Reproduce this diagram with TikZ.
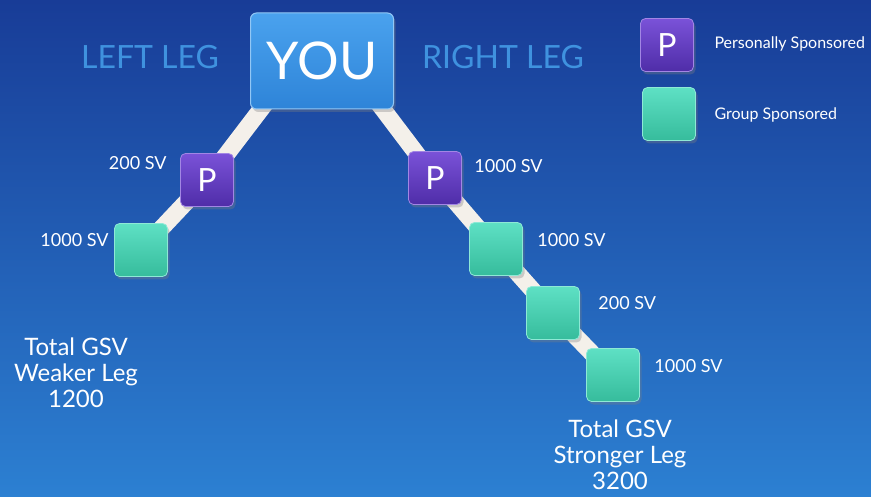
\documentclass[tikz,border=0pt]{standalone}
\usepackage{fontspec}
\setmainfont{Lato}
\usetikzlibrary{shadows}
\pgfdeclarelayer{bg}
\pgfdeclarelayer{links}
\pgfsetlayers{bg,links,main}
\definecolor{bgtop}{HTML}{183C97}
\definecolor{bgbot}{HTML}{2C80D2}
\definecolor{legtxt}{HTML}{3F92DF}
\definecolor{youtop}{HTML}{4AA2EE}
\definecolor{youbot}{HTML}{2E84D8}
\definecolor{ptop}{HTML}{7A52D8}
\definecolor{pbot}{HTML}{4F2DA8}
\definecolor{gtop}{HTML}{5EE0C4}
\definecolor{gbot}{HTML}{36BC9C}
\definecolor{linkc}{HTML}{F4F0EA}
\tikzset{
  x=1pt, y=-1pt,
  boxbase/.style={minimum width=53pt, minimum height=53pt, rounded corners=5pt,
    inner sep=0pt, drop shadow={shadow xshift=2pt, shadow yshift=-3pt, opacity=0.35}},
  pbox/.style={boxbase, top color=ptop, bottom color=pbot, draw=ptop!70!white, line width=0.8pt,
    text=white, font=\fontsize{32}{32}\selectfont},
  gbox/.style={boxbase, top color=gtop, bottom color=gbot, draw=gtop!70!white, line width=0.8pt},
  youbox/.style={minimum width=143pt, minimum height=96pt, rounded corners=6pt,
    top color=youtop, bottom color=youbot, draw=youtop!60!white, line width=1pt,
    text=white, font=\fontsize{52}{52}\selectfont,
    drop shadow={shadow xshift=2pt, shadow yshift=-3pt, opacity=0.35}},
  legtitle/.style={text=legtxt, font=\fontsize{32}{32}\selectfont},
  sv/.style={text=white, font=\fontsize{18}{18}\selectfont},
  total/.style={text=white, align=center, font=\fontsize{24}{26}\selectfont},
  legend/.style={text=white, font=\fontsize{16}{16}\selectfont, anchor=west},
  link/.style={draw=linkc, line width=17pt}
}
\begin{document}
\begin{tikzpicture}
  % background
  \begin{pgfonlayer}{bg}
    \shade[top color=bgtop, bottom color=bgbot] (0,0) rectangle (871,497);
  \end{pgfonlayer}
  \useasboundingbox (0,0) rectangle (871,497);

  % top box and leg titles
  \node[youbox] (you) at (322,61) {YOU};
  \node[legtitle] (lleg) at (150,57) {LEFT LEG};
  \node[legtitle] (rleg) at (503,57) {RIGHT LEG};

  % tree nodes
  \node[pbox] (lp) at (207,180) {P};
  \node[gbox] (lg) at (141,250) {};
  \node[pbox] (rp) at (435,178) {P};
  \node[gbox] (rg1) at (496,249) {};
  \node[gbox] (rg2) at (553,313) {};
  \node[gbox] (rg3) at (613,375) {};

  % connectors, kept behind the boxes
  \coordinate (youl) at (268,100);
  \coordinate (your) at (376,100);
  \begin{pgfonlayer}{links}
    \draw[link] (youl) -- (lp.center) -- (lg.center);
    \draw[link] (your) -- (rp.center) -- (rg1.center) -- (rg2.center) -- (rg3.center);
  \end{pgfonlayer}

  % volume labels
  \node[sv, anchor=east] (lpsv) at (lp.west) [xshift=-10pt, yshift=17pt] {200 SV};
  \node[sv, anchor=east] (lgsv) at (lg.west) [xshift=-2pt, yshift=10pt] {1000 SV};
  \node[sv, anchor=west] (rpsv) at (rp.east) [xshift=9pt, yshift=12pt] {1000 SV};
  \node[sv, anchor=west] (rg1sv) at (rg1.east) [xshift=11pt, yshift=9pt] {1000 SV};
  \node[sv, anchor=west] (rg2sv) at (rg2.east) [xshift=15pt, yshift=10pt] {200 SV};
  \node[sv, anchor=west] (rg3sv) at (rg3.east) [xshift=11pt, yshift=9pt] {1000 SV};

  % totals
  \node[total] (ltot) at (76,373) {Total GSV\\Weaker Leg\\1200};
  \node[total] (rtot) at (620,455) {Total GSV\\Stronger Leg\\3200};

  % legend
  \node[pbox] (keyp) at (667,45) {P};
  \node[gbox] (keyg) at (669,114) {};
  \node[legend] (keyptxt) at (711,44) {Personally Sponsored};
  \node[legend] (keygtxt) at (711,115) {Group Sponsored};
\end{tikzpicture}
\end{document}
